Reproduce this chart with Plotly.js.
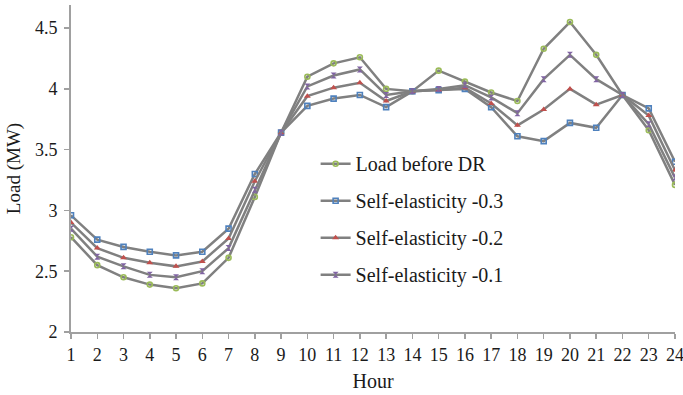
<!DOCTYPE html>
<html>
<head>
<meta charset="utf-8">
<script src="https://cdn.plot.ly/plotly-3.0.1.min.js"></script>
<style>html,body{margin:0;padding:0;background:#fff;}#chart{width:683px;height:395px;}</style>
</head>
<body>
<div id="chart"></div>
<script>
var hours = [1,2,3,4,5,6,7,8,9,10,11,12,13,14,15,16,17,18,19,20,21,22,23,24];
var seriesNames = ["Load before DR","Self-elasticity -0.3","Self-elasticity -0.2","Self-elasticity -0.1"];
var loadBeforeDR = [2.78,2.55,2.45,2.39,2.36,2.40,2.61,3.11,3.64,4.10,4.21,4.26,4.00,3.98,4.15,4.06,3.97,3.90,4.33,4.55,4.28,3.95,3.66,3.21];
var elasticity03 = [2.96,2.76,2.70,2.66,2.63,2.66,2.85,3.30,3.64,3.86,3.92,3.95,3.85,3.98,3.99,4.00,3.85,3.61,3.57,3.72,3.68,3.95,3.84,3.40];
var elasticity02 = [2.90,2.69,2.61,2.57,2.54,2.58,2.77,3.24,3.64,3.94,4.01,4.05,3.90,3.98,3.99,4.01,3.88,3.70,3.83,4.00,3.87,3.95,3.78,3.33];
var elasticity01 = [2.85,2.62,2.54,2.47,2.45,2.50,2.69,3.17,3.64,4.02,4.11,4.16,3.95,3.98,4.00,4.03,3.93,3.80,4.08,4.28,4.08,3.95,3.71,3.27];
var yTicks = [2,2.5,3,3.5,4,4.5];
var yTickText = ["2","2.5","3","3.5","4","4.5"];

var lineColor = "#808080";
var font = "Liberation Serif, Times New Roman, serif";
var markers = [
  {symbol:"circle-open", color:"#9bbb59", size:5, line:{width:1.6,color:"#9bbb59"}},
  {symbol:"square-open", color:"#4f81bd", size:5, line:{width:1.6,color:"#4f81bd"}},
  {symbol:"triangle-up", color:"#c0504d", size:6, line:{width:0}},
  {symbol:"hourglass", color:"#8064a2", size:6, line:{width:0}}
];
var data = [loadBeforeDR, elasticity03, elasticity02, elasticity01];
var traces = data.map(function(d,i){
  return {
    x: hours, y: d, name: seriesNames[i], type:"scatter", mode:"lines+markers",
    legendgroup: "g"+i,
    line:{color:lineColor, width:2.5},
    marker: markers[i]
  };
});

var layout = {
  width:683, height:395,
  margin:{l:71, r:8, t:5, b:63},
  paper_bgcolor:"#fff", plot_bgcolor:"#fff",
  font:{family:font, color:"#1a1a1a", size:18},
  showlegend:true,
  legend:{x:0.405, y:0.345, xanchor:"left", yanchor:"middle", bgcolor:"rgba(255,255,255,0)",
          font:{family:font, size:20, color:"#1a1a1a"}, traceorder:"grouped", tracegroupgap:8},
  xaxis:{range:[1,24], tickvals:hours, ticktext:hours.map(String), showgrid:false, zeroline:false,
         showline:true, linecolor:"#a0a0a0", linewidth:2, ticks:"outside", ticklen:5, tickcolor:"#a0a0a0", tickwidth:1.5,
         ticklabeloverflow:"allow",
         tickfont:{family:font, size:18, color:"#1a1a1a"},
         title:{text:"Hour", font:{family:font, size:20, color:"#1a1a1a"}, standoff:10}},
  yaxis:{range:[2,4.69], tickvals:yTicks, ticktext:yTickText, showgrid:false, zeroline:false,
         showline:true, linecolor:"#a0a0a0", linewidth:2, ticks:"outside", ticklen:5, tickcolor:"#a0a0a0", tickwidth:1.5,
         ticklabelstandoff:3,
         tickfont:{family:font, size:18, color:"#1a1a1a"},
         title:{text:"Load (MW)", font:{family:font, size:19, color:"#1a1a1a"}, standoff:9}}
};
Plotly.newPlot("chart", traces, layout, {displayModeBar:false, staticPlot:true});
</script>
</body>
</html>
